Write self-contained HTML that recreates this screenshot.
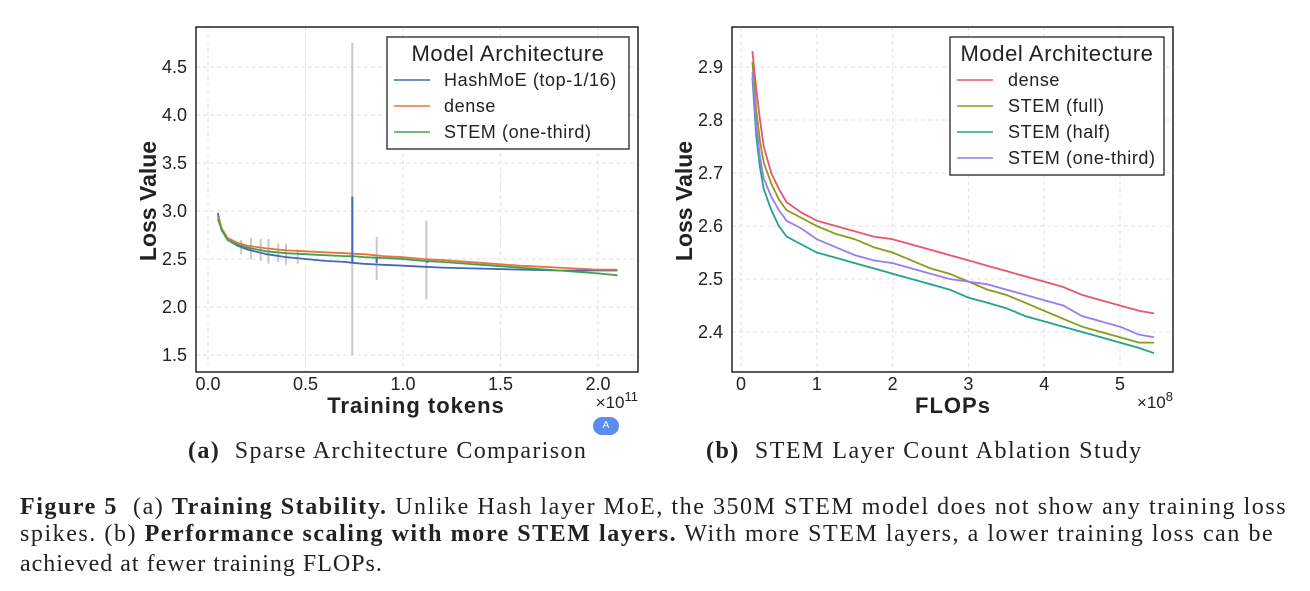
<!DOCTYPE html>
<html><head><meta charset="utf-8"><style>
body{margin:0;background:#fff;width:1310px;height:591px;overflow:hidden;font-family:"Liberation Sans","DejaVu Sans",sans-serif}
.cap{position:absolute;font-family:"Liberation Serif",serif;font-size:24px;line-height:27px;color:#222;letter-spacing:1.35px;white-space:nowrap}
.fig{position:absolute;left:20px;font-family:"Liberation Serif",serif;font-size:24px;line-height:27px;color:#222;white-space:nowrap;letter-spacing:1.55px}
</style></head><body>
<svg id="chart" width="1310" height="440" style="position:absolute;left:0;top:0"></svg>
<div style="position:absolute;left:593px;top:417px;width:26px;height:18px;border-radius:9px;background:#5b8def;color:#fff;font-size:10px;text-align:center;line-height:18px">A</div>
<div class="cap" style="left:188px;top:438px"><b>(a)</b>&nbsp; Sparse Architecture Comparison</div>
<div class="cap" style="left:706px;top:438px;letter-spacing:1.5px"><b>(b)</b>&nbsp; STEM Layer Count Ablation Study</div>
<div class="fig" style="top:494px"><b>Figure 5</b>&nbsp; (a) <b>Training Stability.</b> Unlike Hash layer MoE, the 350M STEM model does not show any training loss</div>
<div class="fig" style="top:521px">spikes. (b) <b>Performance scaling with more STEM layers.</b> With more STEM layers, a lower training loss can be</div>
<div class="fig" style="top:551px;letter-spacing:1px">achieved at fewer training FLOPs.</div>
<script>
// Left chart data
const aX=[0.05,0.07,0.1,0.15,0.2,0.3,0.4,0.5,0.6,0.7,0.74,0.8,0.9,1.0,1.1,1.2,1.4,1.6,1.8,2.0,2.1];
const aDense=[2.95,2.82,2.72,2.67,2.64,2.61,2.59,2.58,2.57,2.56,2.555,2.55,2.53,2.52,2.50,2.49,2.46,2.43,2.41,2.39,2.39];
const aHash=[2.98,2.80,2.70,2.64,2.60,2.55,2.52,2.50,2.48,2.47,2.46,2.45,2.44,2.43,2.42,2.41,2.40,2.39,2.38,2.38,2.38];
const aStem=[2.92,2.80,2.70,2.65,2.62,2.58,2.56,2.55,2.54,2.53,2.53,2.52,2.51,2.50,2.48,2.47,2.44,2.41,2.38,2.35,2.33];
const spikeX=[0.74,0.865,1.125];
const spikeV=[3.15,2.52,2.48];
const barX=[0.17,0.22,0.27,0.31,0.36,0.40,0.46,0.74,0.865,1.12];
const barLo=[2.55,2.50,2.48,2.45,2.47,2.44,2.45,1.5,2.28,2.08];
const barHi=[2.70,2.72,2.71,2.71,2.66,2.66,2.60,4.75,2.73,2.90];
const aXTicks=[0.0,0.5,1.0,1.5,2.0];
const aYTicks=[1.5,2.0,2.5,3.0,3.5,4.0,4.5];
// Right chart data
const bX=[0.15,0.2,0.25,0.3,0.4,0.5,0.6,0.8,1.0,1.25,1.5,1.75,2.0,2.25,2.5,2.75,3.0,3.25,3.5,3.75,4.0,4.25,4.5,4.75,5.0,5.25,5.45];
const bDense=[2.93,2.86,2.80,2.75,2.70,2.67,2.645,2.625,2.61,2.60,2.59,2.58,2.575,2.565,2.555,2.545,2.535,2.525,2.515,2.505,2.495,2.485,2.47,2.46,2.45,2.44,2.435];
const bFull=[2.91,2.82,2.76,2.72,2.68,2.65,2.63,2.615,2.60,2.585,2.575,2.56,2.55,2.535,2.52,2.51,2.495,2.48,2.47,2.455,2.44,2.425,2.41,2.40,2.39,2.38,2.38];
const bHalf=[2.88,2.77,2.71,2.67,2.63,2.60,2.58,2.565,2.55,2.54,2.53,2.52,2.51,2.50,2.49,2.48,2.465,2.455,2.445,2.43,2.42,2.41,2.40,2.39,2.38,2.37,2.36];
const bThird=[2.89,2.79,2.73,2.69,2.655,2.63,2.61,2.595,2.575,2.56,2.545,2.535,2.53,2.52,2.51,2.50,2.495,2.49,2.48,2.47,2.46,2.45,2.43,2.42,2.41,2.395,2.39];
const bXTicks=[0,1,2,3,4,5];
const bYTicks=[2.4,2.5,2.6,2.7,2.8,2.9];

const svg=document.getElementById('chart');
const NS='http://www.w3.org/2000/svg';
function mk(tag,attrs,parent){const e=document.createElementNS(NS,tag);for(const k in attrs)e.setAttribute(k,attrs[k]);(parent||svg).appendChild(e);return e;}

function panel(P){
  const sx=v=>P.x0+(v-P.xa)*P.xs, sy=v=>P.y0+(P.ya-v)*P.ys;
  const g=mk('g',{});
  
  
  P.xt.forEach(t=>{
    const l=mk('line',{x1:sx(t),x2:sx(t),y1:P.top,y2:P.bot,stroke:'#e2e2e2','stroke-dasharray':'4,3'},g);
    
    const tx=mk('text',{x:sx(t),y:P.bot+18,'font-size':18,'text-anchor':'middle',fill:'#222'},g);
    tx.textContent=P.xfmt(t);
    
  });
  P.yt.forEach(t=>{
    const l=mk('line',{x1:P.left,x2:P.right,y1:sy(t),y2:sy(t),stroke:'#e2e2e2','stroke-dasharray':'4,3'},g);
    
    const tx=mk('text',{x:P.left-9,y:sy(t)+6,'font-size':18,'text-anchor':'end',fill:'#222'},g);
    tx.textContent=t.toFixed(1);
    
  });
  (P.extra||(()=>{}))(g,sx,sy);
  P.series.forEach(s=>{
    const d=P.xs_.map((x,i)=>(i?'L':'M')+sx(x).toFixed(1)+','+sy(s.v[i]).toFixed(1)).join('');
    const p=mk('path',{d:d,fill:'none',stroke:s.c,'stroke-width':1.8},g);
    
  });
  (P.after||(()=>{}))(g,sx,sy);
  const fr=mk('rect',{x:P.left,y:P.top,width:P.right-P.left,height:P.bot-P.top,fill:'none',stroke:'#222','stroke-width':1.5},g);
  
  const xl=mk('text',{x:P.xlx,y:413,'font-size':22,'font-weight':'bold','text-anchor':'middle','letter-spacing':1,fill:'#222'},g);
  xl.textContent=P.xlabel;
  const yl=mk('text',{x:0,y:0,'font-size':23,'font-weight':'bold','text-anchor':'middle',fill:'#222',transform:`translate(${P.ylx},201) rotate(-90)`},g);
  yl.textContent='Loss Value';
  const ex=mk('text',{x:P.right,y:408,'font-size':17,'text-anchor':'end',fill:'#222'},g);
  ex.innerHTML='×10<tspan dy="-7" font-size="13">'+P.exp+'</tspan>';
  
  const L=P.leg;
  const lg=mk('g',{},g);
  
  mk('rect',{x:L.x,y:L.y,width:L.w,height:L.h,fill:'#fff',stroke:'#222','stroke-width':1.3},lg);
  const lt=mk('text',{x:L.x+L.w/2,y:L.y+24,'font-size':22,'letter-spacing':0.6,'text-anchor':'middle',fill:'#222'},lg);
  lt.textContent='Model Architecture';
  P.series.forEach((s,i)=>{
    const yy=L.y+43+i*26;
    const e=mk('g',{},lg);
    
    mk('line',{x1:L.x+7,x2:L.x+43,y1:yy,y2:yy,stroke:s.c,'stroke-width':1.6},e);
    const t=mk('text',{x:L.x+L.tx,y:yy+6,'font-size':18,'letter-spacing':0.6,fill:'#222'},e);t.textContent=s.label;
  });
}

panel({name:'chart-a',left:196,right:638,top:27,bot:372,x0:208,xa:0,xs:195,y0:67,ya:4.5,ys:96,
  xt:aXTicks,yt:aYTicks,xfmt:t=>t.toFixed(1),xs_:aX,xlabel:'Training tokens',xlx:416,ylx:156,exp:'11',
  series:[{id:'hashmoe',label:'HashMoE (top-1/16)',c:'#4468b8',v:aHash},{id:'dense',label:'dense',c:'#e8733e',v:aDense},{id:'stem-one-third',label:'STEM (one-third)',c:'#3fa34d',v:aStem}],
  extra:(g,sx,sy)=>{barX.forEach((x,i)=>{const b=mk('line',{x1:sx(x),x2:sx(x),y1:sy(barLo[i]),y2:sy(barHi[i]),stroke:'#c8c8c8','stroke-width':2},g);
    });},
  after:(g,sx,sy)=>{spikeX.forEach((x,i)=>{const s=mk('line',{x1:sx(x),x2:sx(x),y1:sy(2.46),y2:sy(spikeV[i]),stroke:'#4468b8','stroke-width':2},g);
    });},
  leg:{x:387,y:37,w:242,h:112,tx:57}});

panel({name:'chart-b',left:732,right:1173,top:27,bot:372,x0:741,xa:0,xs:75.8,y0:67,ya:2.9,ys:530,
  xt:bXTicks,yt:bYTicks,xfmt:t=>String(t),xs_:bX,xlabel:'FLOPs',xlx:953,ylx:692,exp:'8',
  series:[{id:'dense',label:'dense',c:'#e8556e',v:bDense},{id:'stem-full',label:'STEM (full)',c:'#8a9a1e',v:bFull},{id:'stem-half',label:'STEM (half)',c:'#22a38e',v:bHalf},{id:'stem-one-third',label:'STEM (one-third)',c:'#9a7cf0',v:bThird}],
  leg:{x:950,y:37,w:214,h:138,tx:58}});
</script>
</body></html>
